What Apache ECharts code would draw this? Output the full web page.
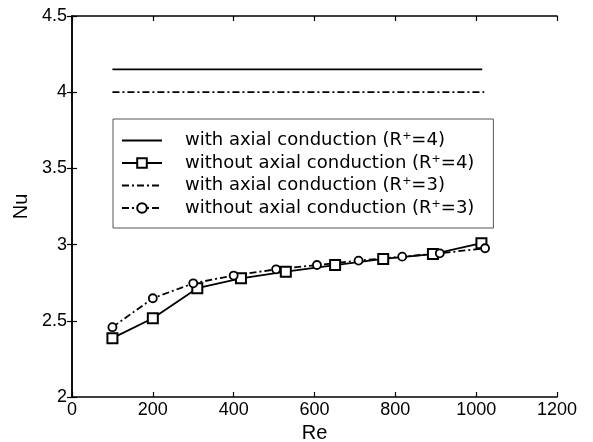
<!DOCTYPE html>
<html><head><meta charset="utf-8">
<script src="https://cdn.jsdelivr.net/npm/echarts@6/dist/echarts.min.js"></script>
<style>html,body{margin:0;padding:0;background:#fff}#c{width:593px;height:442px}</style>
</head><body><div id="c"></div>
<script>
var seriesNames = [
  'with axial conduction (R+=4)',
  'without axial conduction (R+=4)',
  'with axial conduction (R+=3)',
  'without axial conduction (R+=3)'
];
var withR4 = [[100, 4.15], [1015, 4.15]];
var withoutR4 = [[100, 2.386], [200, 2.517], [310, 2.714], [418, 2.779], [529, 2.822], [651, 2.866], [770, 2.906], [893, 2.938], [1013, 3.009]];
var withR3 = [[100, 4.0], [1020, 4.0]];
var withoutR3 = [[100, 2.458], [200, 2.648], [300, 2.746], [400, 2.797], [505, 2.838], [606, 2.866], [709, 2.895], [817, 2.921], [910, 2.943], [1022, 2.976]];
var xTicks = [0, 200, 400, 600, 800, 1000, 1200];
var yTicks = [2, 2.5, 3, 3.5, 4, 4.5];

var FONT = 'Liberation Sans, Arial, sans-serif';
var LFONT = 'DejaVu Sans, sans-serif';
var dashDot = [7, 3, 2, 3];
var chart = echarts.init(document.getElementById('c'));
var tickStyle = {show: true, inside: true, length: 5, lineStyle: {color: '#000', width: 1.2}};
var lineAx = {show: true, lineStyle: {color: '#000', width: 1.5}};
chart.setOption({
  animation: false,
  backgroundColor: '#fff',
  textStyle: {fontFamily: FONT},
  grid: {left: 72, top: 16, right: 36, bottom: 45, containLabel: false, outerBoundsMode: 'none'},
  legend: {
    orient: 'vertical', left: 113, top: 119,
    padding: [12, 19, 11, 8],
    borderColor: '#555', borderWidth: 1, backgroundColor: '#fff',
    itemWidth: 40, itemHeight: 12, itemGap: 4,
    data: [
      {name: seriesNames[0], itemStyle: {opacity: 0}},
      {name: seriesNames[1]},
      {name: seriesNames[2], itemStyle: {opacity: 0}},
      {name: seriesNames[3]}
    ],
    formatter: function (n) { return n.replace('R+', 'R{sup|+}'); },
    textStyle: {
      fontFamily: LFONT, fontSize: 18, color: '#000', padding: [0, 0, 0, 18],
      rich: {sup: {fontFamily: LFONT, fontSize: 11, color: '#000', padding: [0, 0, 8, 0]}}
    }
  },
  xAxis: [{
    type: 'value', min: xTicks[0], max: xTicks[xTicks.length - 1], interval: 200,
    name: 'Re', nameLocation: 'middle', nameGap: 24,
    nameTextStyle: {fontFamily: FONT, fontSize: 20, color: '#000'},
    axisLine: lineAx, axisTick: tickStyle, splitLine: {show: false},
    axisLabel: {fontFamily: FONT, fontSize: 18, color: '#000', margin: 4,
      formatter: function (v) { return String(v); }}
  }, {
    type: 'value', position: 'top', min: xTicks[0], max: xTicks[xTicks.length - 1], interval: 200,
    axisLine: lineAx, axisTick: tickStyle, axisLabel: {show: false}, splitLine: {show: false}
  }],
  yAxis: [{
    type: 'value', min: yTicks[0], max: yTicks[yTicks.length - 1], interval: 0.5,
    name: 'Nu', nameLocation: 'middle', nameGap: 40, nameRotate: 90,
    nameTextStyle: {fontFamily: FONT, fontSize: 20, color: '#000'},
    axisLine: lineAx, axisTick: tickStyle, splitLine: {show: false},
    axisLabel: {fontFamily: FONT, fontSize: 18, color: '#000', margin: 5}
  }, {
    type: 'value', position: 'right', min: yTicks[0], max: yTicks[yTicks.length - 1], interval: 0.5,
    axisLine: lineAx, axisTick: tickStyle, axisLabel: {show: false}, splitLine: {show: false}
  }],
  series: [{
    name: seriesNames[0], type: 'line', data: withR4, symbol: 'none',
    lineStyle: {color: '#000', width: 1.8, type: 'solid'}, itemStyle: {color: '#000'}
  }, {
    name: seriesNames[1], type: 'line', data: withoutR4, symbol: 'rect', symbolSize: 10,
    lineStyle: {color: '#000', width: 1.8, type: 'solid'},
    itemStyle: {color: '#fff', borderColor: '#000', borderWidth: 2}
  }, {
    name: seriesNames[2], type: 'line', data: withR3, symbol: 'none',
    lineStyle: {color: '#000', width: 1.8, type: dashDot}, itemStyle: {color: '#000'}
  }, {
    name: seriesNames[3], type: 'line', data: withoutR3, symbol: 'circle', symbolSize: 8,
    lineStyle: {color: '#000', width: 1.8, type: dashDot},
    itemStyle: {color: '#fff', borderColor: '#000', borderWidth: 1.8}
  }]
});
</script></body></html>
